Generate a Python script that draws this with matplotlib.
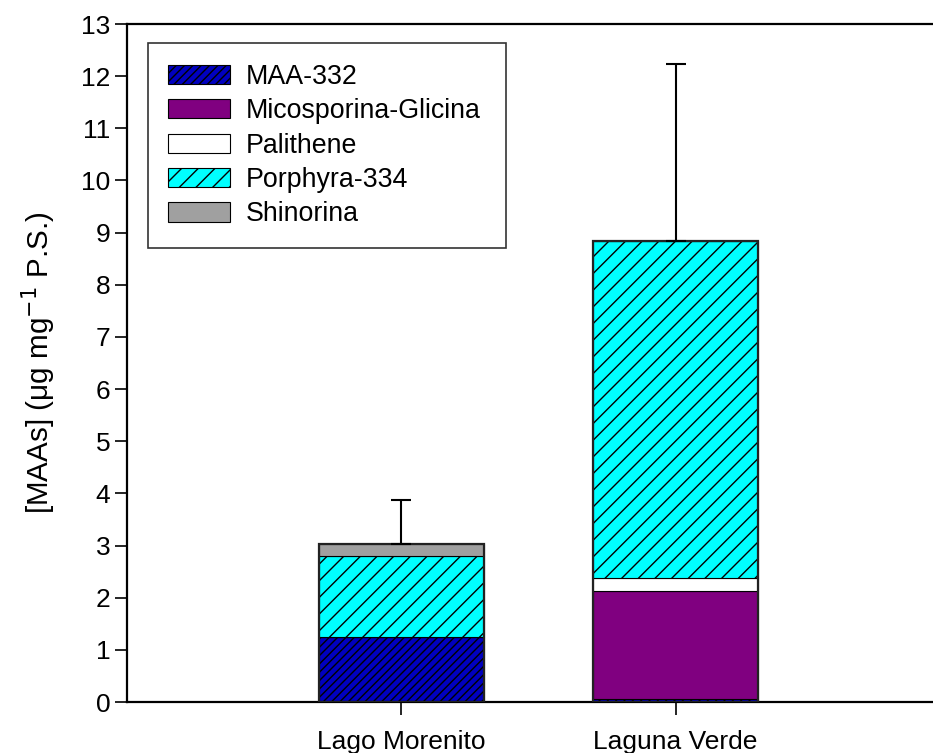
import matplotlib
matplotlib.use("Agg")
import matplotlib.pyplot as plt
import numpy as np

plt.rcParams['font.family'] = ['Liberation Sans', 'DejaVu Sans']
plt.rcParams['hatch.linewidth'] = 1.0

sites = ["Lago Morenito", "Laguna Verde"]
series = ["MAA-332", "Micosporina-Glicina", "Palithene", "Porphyra-334", "Shinorina"]
maa332 = [1.25, 0.05]
micosporina = [0.0, 2.08]
palithene = [0.0, 0.24]
porphyra = [1.55, 6.47]
shinorina = [0.22, 0.0]
err_up = [0.86, 3.39]

values = [maa332, micosporina, palithene, porphyra, shinorina]
colors = ["#0000C0", "#800080", "#FFFFFF", "#00FFFF", "#A0A0A0"]
hatches = ["////", None, None, "//", None]

fig = plt.figure(figsize=(9.33, 7.53), dpi=100)
ax = fig.add_axes([127/933, 51/753, 823/933, 678/753])

x = np.arange(1, len(sites) + 1)
width = 0.6
bottom = np.zeros(len(sites))
handles = []
for vals, col, h, lab in zip(values, colors, hatches, series):
    v = np.array(vals)
    bars = ax.bar(x, v, width, bottom=bottom, color=col, hatch=h,
                  edgecolor="black", linewidth=0.8, label=lab, zorder=2)
    handles.append(bars)
    bottom = bottom + v

# outline of total bars
ax.bar(x, bottom, width, fill=False, edgecolor="#222222", linewidth=1.6, zorder=3)

ax.errorbar(x, bottom, yerr=[np.zeros(len(sites)), err_up], fmt="none",
            ecolor="black", elinewidth=1.5, capsize=7.5, capthick=1.5, zorder=4)

ax.set_xlim(0, 3)
ax.set_ylim(0, 13)
ax.set_yticks(range(0, 14))
ax.set_xticks(x)
ax.set_xticklabels(sites)
ax.tick_params(axis="both", direction="out", length=9, width=1.2, labelsize=19)
ax.tick_params(axis="x", pad=11)
ax.tick_params(axis="y", pad=3)
for s in ["left", "bottom", "top"]:
    ax.spines[s].set_linewidth(1.6)
ax.spines["right"].set_visible(False)

ax.set_ylabel("[MAAs] (\u03bcg mg$^{-1}$ P.S.)", fontsize=21.3)
ax.yaxis.set_label_coords((58 - 127) / 823, 0.5)

x0 = (148 - 127) / 823
ytop = 1 - (43.3 - 24) / 678
leg = ax.legend(handles=handles, loc="upper left",
                bbox_to_anchor=(x0, ytop - 0.3, 358 / 823, 0.3), mode="expand",
                fontsize=19.3, frameon=True, fancybox=False, edgecolor="black",
                handlelength=2.31, handleheight=0.73, labelspacing=0.315,
                borderpad=0.76, handletextpad=0.59, borderaxespad=0)
leg.get_frame().set_linewidth(1.2)

fig.savefig("out.png", dpi=100)
